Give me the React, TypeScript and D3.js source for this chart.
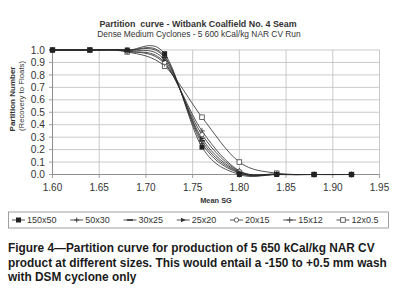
import React from "react";
import * as d3 from "d3";

const sgValues = [1.6, 1.64, 1.68, 1.72, 1.76, 1.8, 1.84, 1.88, 1.92];
const s150x50 = [1, 1, 1, 0.97, 0.22, 0.0, 0, 0, 0];
const s50x30 = [1, 1, 1, 0.95, 0.25, 0.01, 0, 0, 0];
const s30x25 = [1, 1, 1, 0.94, 0.27, 0.015, 0, 0, 0];
const s25x20 = [1, 1, 0.995, 0.92, 0.29, 0.02, 0, 0, 0];
const s20x15 = [1, 1, 0.99, 0.9, 0.32, 0.025, 0.002, 0, 0];
const s15x12 = [1, 1, 0.99, 0.89, 0.35, 0.03, 0.003, 0, 0];
const s12x05 = [1, 1, 0.985, 0.87, 0.46, 0.1, 0.01, 0, 0];

const seriesNames = ["150x50", "50x30", "30x25", "25x20", "20x15", "15x12", "12x0.5"];
const seriesValues = [s150x50, s50x30, s30x25, s25x20, s20x15, s15x12, s12x05];
const seriesMarkers = ["fsquare", "plus", "dash", "tri", "circle", "plus2", "osquare"];

const xTicks = [1.6, 1.65, 1.7, 1.75, 1.8, 1.85, 1.9, 1.95];
const yTicks = [0, 0.1, 0.2, 0.3, 0.4, 0.5, 0.6, 0.7, 0.8, 0.9, 1.0];

const titleText = "Partition  curve - Witbank Coalfield No. 4 Seam";
const subtitleText = "Dense Medium Cyclones - 5 600 kCal/kg NAR CV Run";
const xTitle = "Mean SG";
const yTitle1 = "Partition Number";
const yTitle2 = "(Recovery to Floats)";
const captionLines = [
  "Figure 4\u2014Partition curve for production of 5 650 kCal/kg NAR CV",
  "product at different sizes. This would entail a -150 to +0.5 mm wash",
  "with DSM cyclone only",
];

const INK = "#333";
const GRID = "#bdbdbd";

function Marker({ type, x, y }: { type: string; x: number; y: number }) {
  switch (type) {
    case "fsquare":
      return <rect x={x - 2.5} y={y - 2.5} width={5} height={5} fill="#222" />;
    case "osquare":
      return <rect x={x - 2.3} y={y - 2.3} width={4.6} height={4.6} fill="#fff" stroke="#444" strokeWidth={0.8} />;
    case "plus":
      return (
        <path d={`M${x - 2.5},${y}H${x + 2.5}M${x},${y - 2.5}V${y + 2.5}`} stroke="#333" strokeWidth={0.9} fill="none" />
      );
    case "plus2":
      return (
        <path d={`M${x - 3},${y}H${x + 3}M${x},${y - 3}V${y + 3}`} stroke="#333" strokeWidth={0.8} fill="none" />
      );
    case "dash":
      return <path d={`M${x - 3},${y}H${x + 3}`} stroke="#222" strokeWidth={1.4} />;
    case "tri":
      return <path d={`M${x - 2.2},${y - 2.2}L${x + 2.6},${y}L${x - 2.2},${y + 2.2}Z`} fill="#333" />;
    case "circle":
      return <circle cx={x} cy={y} r={2.2} fill="#fff" stroke="#444" strokeWidth={0.8} />;
    default:
      return null;
  }
}

export default function App() {
  const W = 396;
  const H = 304;
  const x = d3.scaleLinear().domain([1.6, 1.95]).range([52.5, 379.5]);
  const y = d3.scaleLinear().domain([0, 1]).range([174.5, 50]);
  const line = d3
    .line<number>()
    .x((_, i) => x(sgValues[i]))
    .y((d) => y(d))
    .curve(d3.curveCatmullRom.alpha(0));

  const font = "'Liberation Sans', Arial, sans-serif";
  const order = d3.range(seriesNames.length).reverse();

  const legendTextW = (s: string) => s.length * 4.95;
  let lx = 12;
  const legendPos = seriesNames.map((n) => {
    const p = lx;
    lx += 15 + legendTextW(n) + 13.5;
    return p;
  });

  return (
    <svg width={W} height={H} style={{ position: "absolute", left: 0, top: 0, background: "#fff" }} fontFamily={font}>
      <rect width={W} height={H} fill="#fff" />
      <text x={198} y={26.5} textAnchor="middle" fontSize={8.9} fontWeight="bold" fill={INK} style={{ whiteSpace: "pre" }}>
        {titleText}
      </text>
      <text x={199} y={36.5} textAnchor="middle" fontSize={8.4} fill={INK}>
        {subtitleText}
      </text>

      {/* gridlines */}
      {yTicks.map((t) => (
        <line key={"gy" + t} x1={x(1.6)} x2={x(1.95)} y1={y(t)} y2={y(t)} stroke={GRID} strokeWidth={0.8} />
      ))}
      {xTicks.map((t) => (
        <line key={"gx" + t} x1={x(t)} x2={x(t)} y1={y(0)} y2={y(1)} stroke={GRID} strokeWidth={0.8} />
      ))}
      {/* axes */}
      <line x1={x(1.6)} x2={x(1.6)} y1={y(0)} y2={y(1)} stroke="#888" strokeWidth={0.9} />
      <line x1={x(1.6)} x2={x(1.95)} y1={y(0)} y2={y(0)} stroke="#888" strokeWidth={0.9} />
      {yTicks.map((t) => (
        <line key={"ty" + t} x1={x(1.6) - 3.5} x2={x(1.6)} y1={y(t)} y2={y(t)} stroke="#888" strokeWidth={0.8} />
      ))}
      {xTicks.map((t) => (
        <line key={"tx" + t} x1={x(t)} x2={x(t)} y1={y(0)} y2={y(0) + 3.5} stroke="#888" strokeWidth={0.8} />
      ))}
      {yTicks.map((t) => (
        <text key={"ly" + t} x={45} y={y(t) + 3.6} textAnchor="end" fontSize={10.2} fill={INK}>
          {d3.format(".1f")(t)}
        </text>
      ))}
      {xTicks.map((t) => (
        <text key={"lx" + t} x={x(t)} y={191} textAnchor="middle" fontSize={10} fill={INK}>
          {d3.format(".2f")(t)}
        </text>
      ))}
      <text x={216} y={202.5} textAnchor="middle" fontSize={7.4} fontWeight="bold" fill={INK}>
        {xTitle}
      </text>
      <text transform="translate(15,99) rotate(-90)" textAnchor="middle" fontSize={8} fontWeight="bold" fill={INK}>
        {yTitle1}
      </text>
      <text transform="translate(24,96) rotate(-90)" textAnchor="middle" fontSize={7.8} fill={INK}>
        {yTitle2}
      </text>

      {/* series */}
      {order.map((i) => (
        <path key={"s" + i} d={line(seriesValues[i]) || ""} fill="none" stroke="#2a2a2a" strokeWidth={0.8} />
      ))}
      {order.map((i) =>
        seriesValues[i].map((v, j) => (
          <Marker key={"m" + i + "-" + j} type={seriesMarkers[i]} x={x(sgValues[j])} y={y(v)} />
        ))
      )}

      {/* legend */}
      <rect x={8.5} y={212} width={380} height={16} fill="#fff" stroke="#888" strokeWidth={0.8} />
      {seriesNames.map((n, i) => (
        <g key={"lg" + i}>
          <line x1={legendPos[i]} x2={legendPos[i] + 13} y1={220} y2={220} stroke="#2a2a2a" strokeWidth={0.8} />
          <Marker type={seriesMarkers[i]} x={legendPos[i] + 6.5} y={220} />
          <text x={legendPos[i] + 15} y={223.2} fontSize={9} fill={INK}>
            {n}
          </text>
        </g>
      ))}

      {captionLines.map((c, i) => (
        <text key={"c" + i} x={8} y={252 + i * 14.5} fontSize={11.85} fontWeight="bold" fill="#1a1a1a">
          {c}
        </text>
      ))}
    </svg>
  );
}
